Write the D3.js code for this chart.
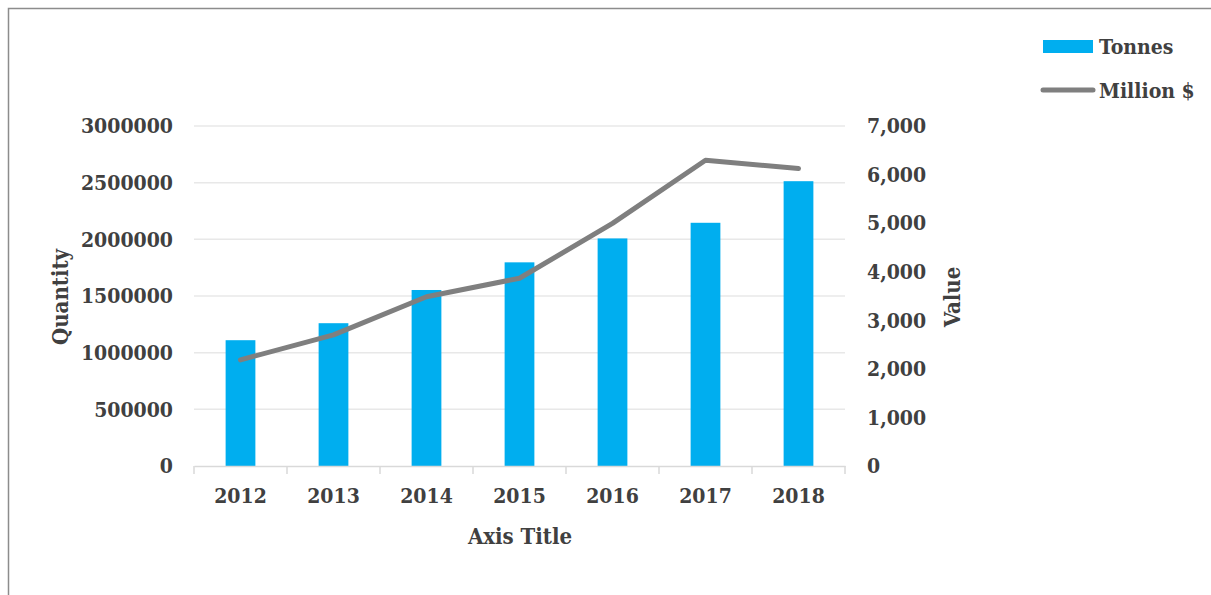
<!DOCTYPE html>
<html>
<head>
<meta charset="utf-8">
<script src="https://cdn.jsdelivr.net/npm/d3@7/dist/d3.min.js"></script>
<style>
  html, body { margin: 0; padding: 0; background: #fff; }
  svg text { font-family: "DejaVu Serif Condensed", "DejaVu Serif", serif; font-weight: bold; fill: #404040; }
</style>
</head>
<body>
<svg id="chart" width="1211" height="595"></svg>
<script>
// Yearly quantity (tonnes) and value (million $)
const years = ["2012", "2013", "2014", "2015", "2016", "2017", "2018"];
const tonnes = [1110000, 1260000, 1553000, 1797000, 2008000, 2146000, 2513000];
const millionUSD = [2185, 2700, 3485, 3865, 4995, 6295, 6125];
const leftTicks = [0, 500000, 1000000, 1500000, 2000000, 2500000, 3000000];
const rightTicks = [0, 1000, 2000, 3000, 4000, 5000, 6000, 7000];

const svg = d3.select("#chart");
const W = 1211, H = 595;
const plot = { left: 194, right: 845, top: 126, bottom: 466 };

// chart frame
svg.append("rect")
  .attr("x", 8.5).attr("y", 8.5)
  .attr("width", W + 10).attr("height", H + 10)
  .attr("fill", "#fff").attr("stroke", "#8c8c8c").attr("stroke-width", 1.5);

const x = d3.scaleBand().domain(years).range([plot.left, plot.right]).paddingInner(0.68).paddingOuter(0.34);
const xCat = d3.scaleBand().domain(years).range([plot.left, plot.right]);
const yL = d3.scaleLinear().domain([0, 3000000]).range([plot.bottom, plot.top]);
const yR = d3.scaleLinear().domain([0, 7000]).range([plot.bottom, plot.top]);

// horizontal gridlines
svg.append("g").selectAll("line").data(leftTicks.slice(1)).join("line")
  .attr("x1", plot.left).attr("x2", plot.right)
  .attr("y1", d => yL(d)).attr("y2", d => yL(d))
  .attr("stroke", "#e8e8e8").attr("stroke-width", 1.5);

// bars
svg.append("g").selectAll("rect").data(years).join("rect")
  .attr("x", d => x(d)).attr("width", x.bandwidth())
  .attr("y", (d, i) => yL(tonnes[i]))
  .attr("height", (d, i) => yL(0) - yL(tonnes[i]))
  .attr("fill", "#00aeef");

// category axis
const xAxis = svg.append("g").attr("transform", `translate(0,${plot.bottom})`)
  .call(d3.axisBottom(xCat).tickSize(0).tickPadding(22));
xAxis.select(".domain").attr("stroke", "#d9d9d9").attr("stroke-width", 1.5);
xAxis.selectAll("text").attr("font-size", 21).attr("font-family", null);
// category boundary ticks
const bounds = years.map(d => xCat(d)).concat([plot.right]);
svg.append("g").selectAll("line").data(bounds).join("line")
  .attr("x1", d => d).attr("x2", d => d)
  .attr("y1", plot.bottom).attr("y2", plot.bottom + 8)
  .attr("stroke", "#d9d9d9").attr("stroke-width", 1.5);

// left axis labels
const yAxisL = svg.append("g").attr("transform", `translate(${plot.left - 21},0)`)
  .call(d3.axisLeft(yL).tickValues(leftTicks).tickSize(0).tickPadding(0).tickFormat(d3.format("d")));
yAxisL.select(".domain").remove();
yAxisL.selectAll("text").attr("font-size", 21).attr("font-family", null);

// right axis labels
const yAxisR = svg.append("g").attr("transform", `translate(${plot.right + 22},0)`)
  .call(d3.axisRight(yR).tickValues(rightTicks).tickSize(0).tickPadding(0).tickFormat(d3.format(",")));
yAxisR.select(".domain").remove();
yAxisR.selectAll("text").attr("font-size", 21).attr("font-family", null);

// value line
const line = d3.line()
  .x((d, i) => xCat(years[i]) + xCat.bandwidth() / 2)
  .y(d => yR(d));
svg.append("path").datum(millionUSD)
  .attr("d", line)
  .attr("fill", "none").attr("stroke", "#7f7f7f")
  .attr("stroke-width", 5).attr("stroke-linecap", "round").attr("stroke-linejoin", "round");

// axis titles
svg.append("text").attr("transform", "translate(60,297) rotate(-90)")
  .attr("text-anchor", "middle").attr("dominant-baseline", "central")
  .attr("font-size", 22).text("Quantity");
svg.append("text").attr("transform", "translate(952,297) rotate(-90)")
  .attr("text-anchor", "middle").attr("dominant-baseline", "central")
  .attr("font-size", 22).text("Value");
svg.append("text").attr("x", 520).attr("y", 536)
  .attr("text-anchor", "middle").attr("dominant-baseline", "central")
  .attr("font-size", 22).text("Axis Title");

// legend
const legend = svg.append("g");
legend.append("rect").attr("x", 1043).attr("y", 40).attr("width", 50).attr("height", 13).attr("fill", "#00aeef");
legend.append("text").attr("x", 1099).attr("y", 46).attr("dominant-baseline", "central")
  .attr("font-size", 21).text("Tonnes");
legend.append("line").attr("x1", 1043).attr("x2", 1093).attr("y1", 90).attr("y2", 90)
  .attr("stroke", "#7f7f7f").attr("stroke-width", 5).attr("stroke-linecap", "round");
legend.append("text").attr("x", 1099).attr("y", 90).attr("dominant-baseline", "central")
  .attr("font-size", 21).text("Million $");
</script>
</body>
</html>
